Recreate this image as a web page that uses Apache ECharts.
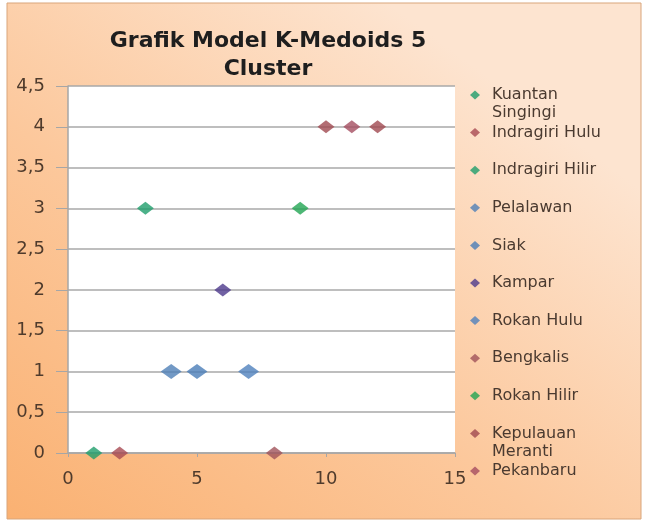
<!DOCTYPE html>
<html>
<head>
<meta charset="utf-8">
<script src="https://cdn.jsdelivr.net/npm/echarts@6/dist/echarts.min.js"></script>
<style>
  html, body { margin: 0; padding: 0; background: #fff; }
  #main { width: 646px; height: 524px; }
</style>
</head>
<body>
<div id="main"></div>
<script type="text/javascript">
    // data
    var kabupaten = ['Kuantan Singingi', 'Indragiri Hulu', 'Indragiri Hilir', 'Pelalawan', 'Siak', 'Kampar',
        'Rokan Hulu', 'Bengkalis', 'Rokan Hilir', 'Kepulauan Meranti', 'Pekanbaru', 'Dumai'];
    var nomor = [1, 2, 3, 4, 5, 6, 7, 8, 9, 10, 11, 12];
    var cluster = [0, 0, 3, 1, 1, 2, 1, 0, 3, 4, 4, 4];
    // legend text as wrapped in the picture (Dumai is cut off there)
    var legendLabel = ['Kuantan\nSingingi', 'Indragiri Hulu', 'Indragiri Hilir', 'Pelalawan', 'Siak', 'Kampar',
        'Rokan Hulu', 'Bengkalis', 'Rokan Hilir', 'Kepulauan\nMeranti', 'Pekanbaru'];

    var warna = ['#1f9e6c', '#a84a52', '#1f9e6c', '#4f80b6', '#4a7db8', '#4e3a8c',
        '#4f81bd', '#a0525a', '#22a552', '#a04850', '#a54e60', '#a04850'];
    var besar = [false, false, false, true, true, false, true, false, false, false, false, false];

    var myChart = echarts.init(document.getElementById('main'));

    var series = [];
    for (var i = 0; i < kabupaten.length; i++) {
        series.push({
            name: kabupaten[i],
            type: 'scatter',
            symbol: 'diamond',
            symbolSize: besar[i] ? [21, 15] : [17, 13],
            itemStyle: { color: warna[i] },
            data: [[nomor[i], cluster[i]]]
        });
    }

    // one legend per entry so the rows keep an even step like the original
    var legends = [];
    var lineH = 18;
    for (var j = 0; j < legendLabel.length; j++) {
        var baris = legendLabel[j].split('\n').length;
        // a blank first line puts the first text line level with the marker
        var teks = baris > 1 ? ' \n' + legendLabel[j] : legendLabel[j];
        var tinggi = (baris > 1 ? baris + 1 : 1) * lineH;
        var tengah = 95 + j * 37.6;
        legends.push({
            data: [{ name: kabupaten[j], icon: 'diamond' }],
            orient: 'vertical',
            left: 470,
            top: tengah - tinggi / 2,
            padding: 0,
            itemWidth: 10,
            itemHeight: 9,
            formatter: (function (t) { return function () { return t; }; })(teks),
            textStyle: {
                color: '#4a3a30',
                fontFamily: 'DejaVu Sans',
                fontSize: 16,
                lineHeight: lineH,
                padding: [0, 0, 0, 7]
            }
        });
    }

    var option = {
        backgroundColor: '#fff',
        animation: false,
        title: {
            text: 'Grafik Model K-Medoids 5\nCluster',
            left: 263,
            textAlign: 'center',
            top: 22,
            textStyle: {
                fontFamily: 'DejaVu Sans',
                fontWeight: 'bold',
                fontSize: 22,
                lineHeight: 28,
                color: '#1e1e1e'
            }
        },
        graphic: {
            elements: [{
                type: 'rect',
                z: -100,
                silent: true,
                shape: { x: 7, y: 3, width: 634, height: 516 },
                style: {
                    fill: new echarts.graphic.LinearGradient(0, 1, 0.6, 0, [
                        { offset: 0, color: '#fab172' },
                        { offset: 0.5, color: '#fcc89c' },
                        { offset: 1, color: '#fde4d0' }
                    ]),
                    stroke: '#d9a57a',
                    lineWidth: 1
                }
            }]
        },
        legend: legends,
        grid: {
            left: 68,
            right: 191,
            top: 86,
            bottom: 71,
            show: true,
            backgroundColor: '#fff',
            borderWidth: 0
        },
        xAxis: {
            type: 'value',
            min: 0,
            max: 15,
            interval: 5,
            axisLine: { show: true, lineStyle: { color: '#a6a6a6', width: 1.5 } },
            axisTick: { show: true, length: 4, lineStyle: { color: '#a6a6a6' } },
            splitLine: { show: false },
            axisLabel: {
                margin: 17,
                color: '#4f3b2c',
                fontFamily: 'DejaVu Sans',
                fontSize: 18
            }
        },
        yAxis: {
            type: 'value',
            min: 0,
            max: 4.5,
            interval: 0.5,
            axisLine: { show: true, lineStyle: { color: '#a6a6a6', width: 1.5 } },
            axisTick: { show: true, length: 12, lineStyle: { color: '#a6a6a6' } },
            splitLine: { show: true, lineStyle: { color: '#a9a9a9', width: 1.5 } },
            axisLabel: {
                margin: 23,
                color: '#4f3b2c',
                fontFamily: 'DejaVu Sans',
                fontSize: 18,
                formatter: function (v) { return String(v).replace('.', ','); }
            }
        },
        series: series
    };

    myChart.setOption(option);
</script>
</body>
</html>
